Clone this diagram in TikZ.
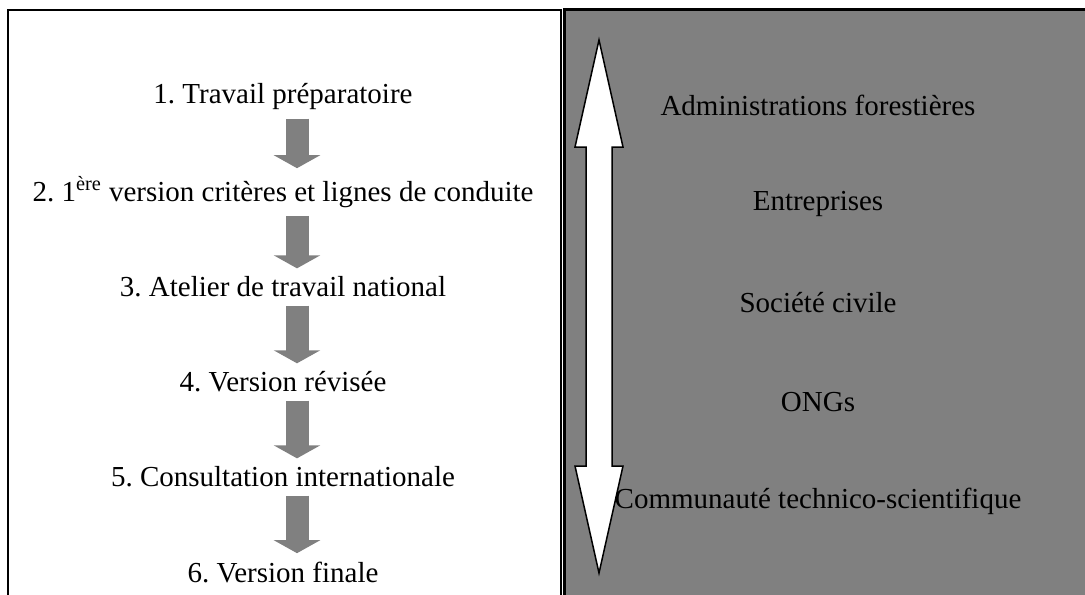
\documentclass[tikz,border=0pt]{standalone}
\usepackage{fontspec}
\setmainfont{Liberation Serif}
\usetikzlibrary{arrows.meta}

\definecolor{boxgray}{RGB}{128,128,128}

\tikzset{
	stepnode/.style={font=\fontsize{14.5}{16}\selectfont, inner sep=4pt},
	actor/.style={font=\fontsize{14.5}{16}\selectfont, inner sep=0pt},
	flow/.style={draw=boxgray, line width=11.5pt, -{Triangle[width=23pt,length=6.5pt]}}
}

\begin{document}
\frenchspacing
\begin{tikzpicture}[x=0.5pt,y=-0.5pt]
		\clip (0,0) rectangle (1085,594);
		\draw[line width=1pt, fill=white] (8,10) rectangle (561,640);
		\draw[line width=1.5pt, fill=boxgray] (564,9.5) rectangle (1120,640);
		
		\node[stepnode] (s1) at (283,97) {1. Travail préparatoire};
		\node[stepnode] (s2) at (283,192) {2. 1\textsuperscript{ère} version critères et lignes de conduite};
		\node[stepnode] (s3) at (283,287) {3. Atelier de travail national};
		\node[stepnode] (s4) at (283,382) {4. Version révisée};
		\node[stepnode] (s5) at (283,477) {5. Consultation internationale};
		\node[stepnode] (s6) at (283,572) {6. Version finale};
		
		\foreach \a/\b in {s1/s2, s2/s3, s3/s4, s4/s5, s5/s6}
			\draw[flow] ([xshift=7pt]\a.south) -- ([xshift=7pt]\b.north);
		
		\filldraw[fill=white, line width=0.75pt] (599,40) -- (623,147) -- (612,147) -- (612,466) -- (623,466) -- (599,573) -- (575,466) -- (586,466) -- (586,147) -- (575,147) -- cycle;
		
		\node[actor] (a1) at (818,105) {Administrations forestières};
		\node[actor] (a2) at (818,204) {Entreprises};
		\node[actor] (a3) at (818,303) {Société civile};
		\node[actor] (a4) at (818,402) {ONGs};
		\node[actor] (a5) at (818,501) {Communauté technico-scientifique};
		
	\end{tikzpicture}
\end{document}
